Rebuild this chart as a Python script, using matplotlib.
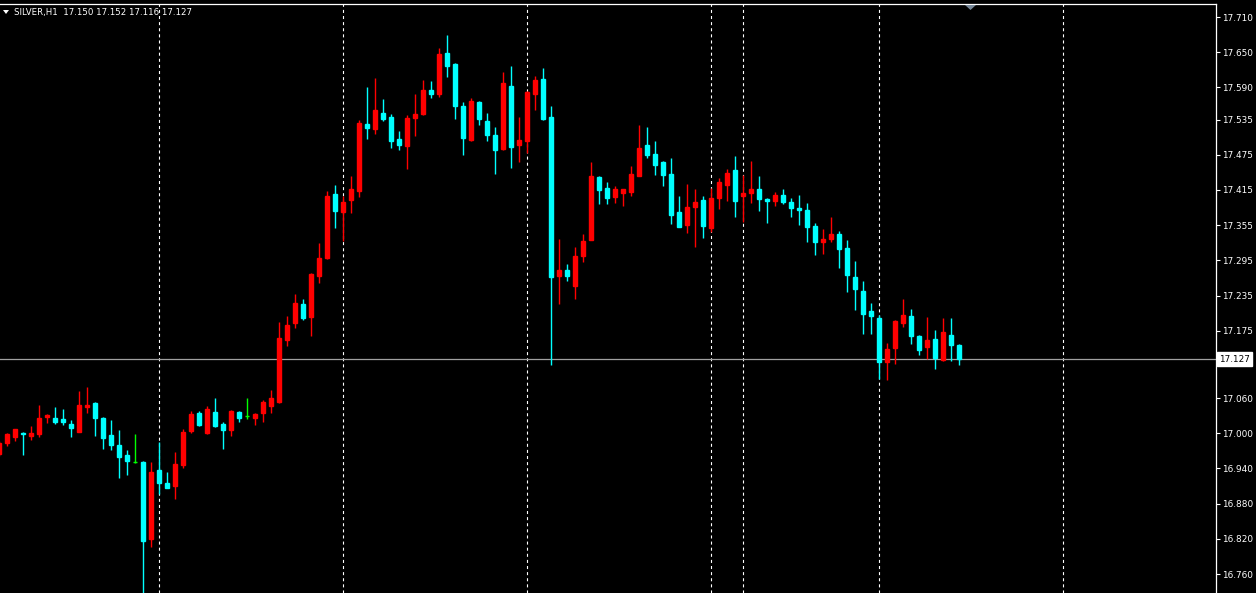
import numpy as np
import matplotlib
matplotlib.use('Agg')
import matplotlib.pyplot as plt
from matplotlib.patches import Polygon

# SILVER H1 candles, oldest first
opens = [16.965, 16.983, 16.994, 17.001, 16.995, 16.999, 17.028, 17.026, 17.024, 17.016,
         17.003, 17.045, 17.052, 17.026, 16.997, 16.980, 16.963, 16.951, 16.951, 16.820,
         16.937, 16.915, 16.910, 16.946, 17.004, 17.035, 17.001, 17.036, 17.016, 17.006,
         17.036, 17.029, 17.026, 17.035, 17.047, 17.053, 17.159, 17.188, 17.221, 17.198,
         17.268, 17.299, 17.408, 17.377, 17.398, 17.413, 17.528, 17.519, 17.546, 17.539,
         17.502, 17.490, 17.538, 17.545, 17.585, 17.579, 17.649, 17.630, 17.558, 17.500,
         17.565, 17.533, 17.509, 17.485, 17.592, 17.492, 17.498, 17.579, 17.604, 17.539,
         17.268, 17.278, 17.251, 17.302, 17.330, 17.437, 17.418, 17.403, 17.410, 17.412,
         17.439, 17.492, 17.476, 17.463, 17.442, 17.377, 17.355, 17.386, 17.398, 17.350,
         17.401, 17.423, 17.449, 17.405, 17.410, 17.417, 17.400, 17.396, 17.406, 17.394,
         17.384, 17.381, 17.354, 17.326, 17.331, 17.340, 17.316, 17.267, 17.243, 17.209,
         17.197, 17.122, 17.145, 17.188, 17.200, 17.166, 17.147, 17.161, 17.125, 17.168,
         17.150]
highs = [16.987, 17.001, 17.008, 17.002, 17.012, 17.048, 17.033, 17.045, 17.041, 17.022,
         17.072, 17.079, 17.053, 17.028, 17.023, 17.006, 16.971, 16.999, 16.952, 16.951,
         16.985, 16.934, 16.968, 17.007, 17.038, 17.038, 17.047, 17.060, 17.019, 17.040,
         17.038, 17.060, 17.034, 17.057, 17.074, 17.190, 17.200, 17.238, 17.229, 17.273,
         17.325, 17.413, 17.423, 17.405, 17.439, 17.534, 17.591, 17.606, 17.570, 17.545,
         17.516, 17.543, 17.579, 17.603, 17.601, 17.657, 17.679, 17.632, 17.565, 17.572,
         17.567, 17.546, 17.522, 17.616, 17.626, 17.539, 17.583, 17.609, 17.623, 17.558,
         17.331, 17.289, 17.318, 17.340, 17.463, 17.439, 17.429, 17.422, 17.417, 17.456,
         17.526, 17.522, 17.498, 17.464, 17.470, 17.405, 17.425, 17.417, 17.405, 17.418,
         17.435, 17.451, 17.473, 17.441, 17.464, 17.439, 17.401, 17.412, 17.417, 17.401,
         17.406, 17.393, 17.359, 17.348, 17.369, 17.345, 17.330, 17.294, 17.260, 17.222,
         17.202, 17.154, 17.193, 17.229, 17.212, 17.168, 17.198, 17.176, 17.197, 17.197,
         17.152]
lows = [16.961, 16.979, 16.986, 16.963, 16.989, 16.994, 17.018, 17.015, 17.014, 16.994,
        17.002, 17.035, 16.995, 16.973, 16.971, 16.924, 16.929, 16.949, 16.720, 16.806,
        16.896, 16.906, 16.888, 16.941, 17.000, 17.013, 16.999, 17.011, 16.973, 16.995,
        17.019, 17.024, 17.014, 17.019, 17.035, 17.052, 17.149, 17.180, 17.193, 17.166,
        17.256, 17.297, 17.350, 17.328, 17.376, 17.403, 17.502, 17.510, 17.533, 17.487,
        17.483, 17.451, 17.507, 17.543, 17.572, 17.574, 17.608, 17.536, 17.475, 17.498,
        17.526, 17.498, 17.442, 17.484, 17.452, 17.463, 17.478, 17.551, 17.534, 17.116,
        17.220, 17.260, 17.229, 17.292, 17.329, 17.391, 17.391, 17.393, 17.388, 17.405,
        17.438, 17.470, 17.441, 17.422, 17.357, 17.351, 17.342, 17.318, 17.333, 17.343,
        17.383, 17.396, 17.369, 17.360, 17.393, 17.379, 17.359, 17.388, 17.391, 17.369,
        17.355, 17.326, 17.304, 17.306, 17.326, 17.282, 17.241, 17.210, 17.169, 17.169,
        17.093, 17.091, 17.118, 17.181, 17.152, 17.134, 17.127, 17.110, 17.123, 17.123,
        17.116]
closes = [16.983, 16.999, 17.007, 16.999, 17.001, 17.026, 17.032, 17.019, 17.019, 17.009,
          17.048, 17.049, 17.026, 16.992, 16.980, 16.960, 16.953, 16.951, 16.816, 16.934,
          16.915, 16.907, 16.948, 17.002, 17.033, 17.014, 17.041, 17.012, 17.006, 17.038,
          17.026, 17.029, 17.033, 17.053, 17.060, 17.163, 17.185, 17.222, 17.197, 17.272,
          17.299, 17.405, 17.379, 17.394, 17.417, 17.529, 17.521, 17.551, 17.536, 17.499,
          17.492, 17.538, 17.545, 17.585, 17.579, 17.647, 17.626, 17.558, 17.504, 17.567,
          17.536, 17.509, 17.483, 17.597, 17.488, 17.500, 17.582, 17.603, 17.536, 17.267,
          17.278, 17.268, 17.302, 17.328, 17.439, 17.415, 17.401, 17.417, 17.417, 17.442,
          17.487, 17.475, 17.458, 17.441, 17.372, 17.352, 17.386, 17.394, 17.354, 17.401,
          17.429, 17.444, 17.396, 17.410, 17.417, 17.400, 17.396, 17.406, 17.394, 17.384,
          17.381, 17.352, 17.326, 17.331, 17.340, 17.314, 17.270, 17.246, 17.203, 17.200,
          17.122, 17.144, 17.192, 17.202, 17.166, 17.142, 17.159, 17.128, 17.173, 17.151,
          17.127]

# bar numbers of the period separators (last one is in the empty future area)
separators = [19, 42, 65, 88, 92, 109, 132]
price_ticks = [17.710, 17.650, 17.590, 17.535, 17.475, 17.415, 17.355, 17.295, 17.235,
               17.175, 17.120, 17.060, 17.000, 16.940, 16.880, 16.820, 16.760]
last_price = 17.127
header = 'SILVER,H1  17.150 17.152 17.116 17.127'

plt.rcParams['lines.scale_dashes'] = False
W, H = 1256, 593
fig = plt.figure(figsize=(W / 100, H / 100), dpi=100, facecolor='black')
ax = fig.add_axes([0, 0, 1216 / W, 1 - 4 / H], facecolor='black')

o = np.array(opens)
c = np.array(closes)
x = np.arange(len(o)) - 1
cols = np.where(c > o, '#FF0000', np.where(c < o, '#00FFFF', '#00FF00'))

ax.vlines(x, lows, highs, colors=cols, lw=1.0, zorder=3)
ax.bar(x, np.abs(c - o), bottom=np.minimum(o, c), width=0.5,
       color=cols, edgecolor=cols, linewidth=1.0, zorder=4)

for s in separators:
    ax.axvline(s, color='white', lw=0.8, dashes=(2.2, 2.2), zorder=1)

ax.axhline(last_price, color='#A0A0A0', lw=0.9, zorder=2)

ax.set_xlim(-0.9125, 151.09)
ax.set_ylim(16.7276, 17.7322)

ax.yaxis.tick_right()
ax.set_yticks(price_ticks)
ax.set_yticklabels(['%.3f' % t for t in price_ticks])
ax.tick_params(axis='y', colors='white', length=3, width=0.8, pad=1.5,
               labelsize=6.4, labelcolor='white')
ax.set_xticks([])
for side in ['left', 'bottom']:
    ax.spines[side].set_visible(False)
for side in ['top', 'right']:
    ax.spines[side].set_color('white')
    ax.spines[side].set_linewidth(0.9)

# current price box on the price scale, covers most of the 17.120 label
fig.text(1219 / W, 1 - 359 / H, '%.3f' % last_price, color='black', fontsize=6.4,
         va='center', ha='left', zorder=10,
         bbox=dict(boxstyle='square,pad=0.25', fc='white', ec='white'))

# header and small markers
fig.text(14 / W, 1 - 12 / H, header, color='white', fontsize=6.2, va='center', ha='left')
fig.add_artist(Polygon([[3, H - 10], [9, H - 10], [6, H - 14]], closed=True,
                       fc='white', ec='none', transform=None))
fig.add_artist(Polygon([[965, H - 5], [976, H - 5], [970.5, H - 10]], closed=True,
                       fc='#778899', ec='none', transform=None))

plt.savefig('out.png', dpi=100, facecolor='black')
